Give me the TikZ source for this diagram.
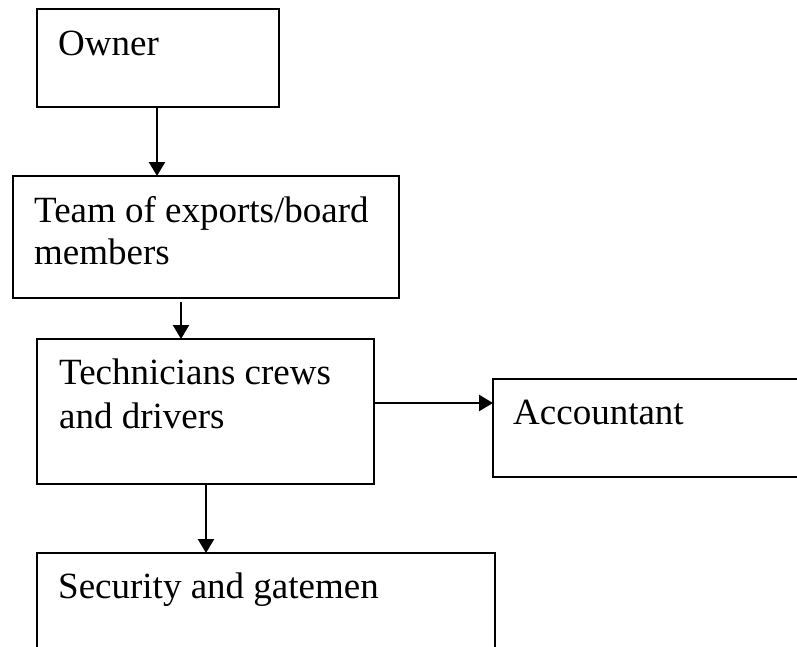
\documentclass[tikz,border=0pt]{standalone}
\usepackage{fontspec}
\setmainfont{Liberation Serif}
\usetikzlibrary{arrows.meta}
\begin{document}
\begin{tikzpicture}[x=1pt,y=-1pt,
  box/.style={draw=black,line width=2.3pt,rectangle,inner sep=0pt,outer sep=0pt},
  lbl/.style={anchor=base west,inner sep=0pt,font=\fontsize{37pt}{44pt}\selectfont},
  arr/.style={line width=2.3pt,-{Triangle[width=16pt,length=14pt]}}]
\useasboundingbox (0,0) rectangle (797,646);
\clip (0,0) rectangle (797,646);
% boxes
\node[box,minimum width=242pt,minimum height=98pt] (owner) at (158,58) {};
\node[box,minimum width=386pt,minimum height=122pt] (team) at (206,237) {};
\node[box,minimum width=337pt,minimum height=145pt] (tech) at (205.5,411.5) {};
\node[box,minimum width=360pt,minimum height=98pt] (acct) at (673,428) {};
\node[box,minimum width=458pt,minimum height=160pt] (sec) at (266,633) {};
% labels
\node[lbl] (ownerlbl) at (58,55) {Owner};
\node[lbl] (teamlbl1) at (34,222) {Team of exports/board};
\node[lbl] (teamlbl2) at (34,264.5) {members};
\node[lbl] (techlbl1) at (59,384) {Technicians crews};
\node[lbl] (techlbl2) at (59,428) {and drivers};
\node[lbl] (acctlbl) at (513,424) {Accountant};
\node[lbl] (seclbl) at (58,598) {Security and gatemen};
% connectors
\draw[arr] (owner.south -| 157,0) -- (team.north -| 157,0);
\draw[arr] ([yshift=-4pt]team.south -| 181,0) -- (tech.north -| 181,0);
\draw[arr] (tech.east |- 0,403) -- (acct.west |- 0,403);
\draw[arr] (tech.south -| 206,0) -- (sec.north -| 206,0);
\end{tikzpicture}
\end{document}
